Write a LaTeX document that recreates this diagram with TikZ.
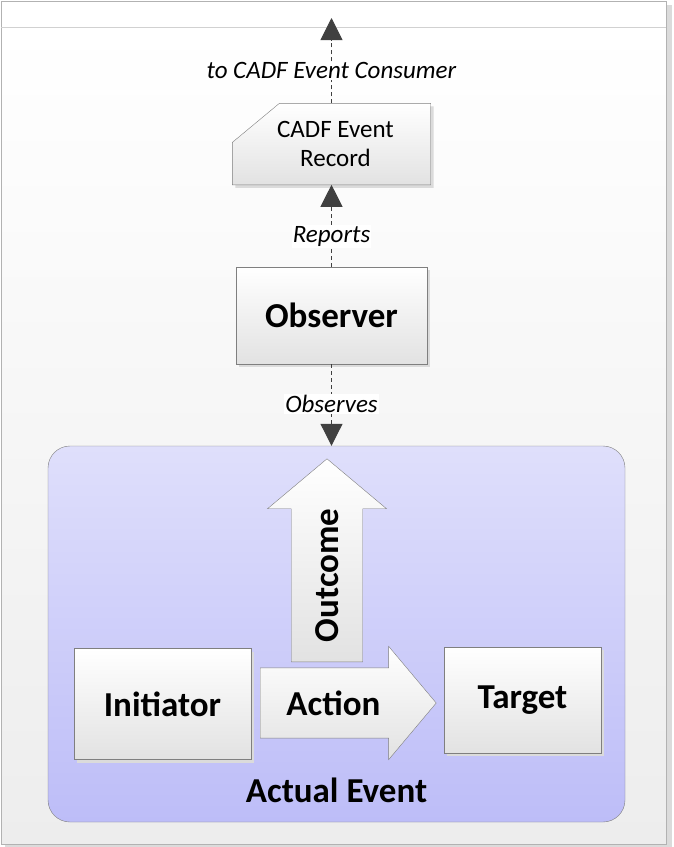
\documentclass[tikz,border=0pt]{standalone}
\usepackage{fontspec}
\setmainfont{Carlito}
\usepackage{tikz}
\usetikzlibrary{shapes.arrows, arrows.meta, positioning, shadows}

\definecolor{boxline}{HTML}{7F7F7F}
\definecolor{boxlow}{HTML}{E2E2E2}
\definecolor{evttop}{HTML}{DFDFFB}
\definecolor{evtlow}{HTML}{BDBDF8}
\definecolor{connclr}{HTML}{404040}
\definecolor{pagelow}{HTML}{EDEDED}

\newcommand{\boxfont}{\fontsize{35}{42}\selectfont\bfseries}
\newcommand{\lblfont}{\fontsize{25}{29}\selectfont}

\begin{document}
\begin{tikzpicture}[
  x=1pt, y=-1pt,
  box/.style     = {draw=boxline, top color=white, bottom color=boxlow,
                    font=\boxfont, align=center,
                    drop shadow={shadow xshift=3pt, shadow yshift=-3pt,
                                 opacity=1, fill=black!14}},
  evtbox/.style  = {draw=boxline, rounded corners=22pt,
                    top color=evttop, bottom color=evtlow},
  blockarr/.style = {single arrow, draw=boxline, top color=white,
                    bottom color=boxlow, font=\boxfont,
                    single arrow tip angle=100},
  conn/.style    = {draw=connclr, line width=1pt, dash pattern=on 4pt off 3pt,
                    -{Triangle[length=22pt, width=22pt]}},
  lbl/.style     = {fill=white, inner sep=1pt, font=\lblfont\itshape}
]
\useasboundingbox (0,0) rectangle (673,847);

% Page frame
\fill[black!14] (5,5) rectangle (672,847);
\fill[top color=white, bottom color=pagelow] (1,27) rectangle (666,844);
\fill[white] (1,1) rectangle (666,27);
\draw[black!30] (1,1) rectangle (666,844);
\draw[black!18] (1,27) -- (666,27);

% Nodes
\node[box, minimum width=191pt, minimum height=97pt] (obs) at (331.5,315.5) {Observer};
\node[minimum width=198pt, minimum height=81pt, above=82pt of obs,
      font=\lblfont, align=center] (rec) {};
\fill[black!14] ([shift={(3pt,-3pt)}]rec.south west) -- ([shift={(3pt,-3pt)}]rec.south east)
  -- ([shift={(3pt,-3pt)}]rec.north east) -- ([shift={(50pt,-3pt)}]rec.north west)
  -- ([shift={(3pt,-42pt)}]rec.north west) -- cycle;
\draw[boxline, top color=white, bottom color=boxlow] (rec.south west) -- (rec.south east)
  -- (rec.north east) -- ([xshift=47pt]rec.north west)
  -- ([yshift=-39pt]rec.north west) -- cycle;
\node[font=\lblfont, align=center] (rectxt) at ([xshift=4pt]rec.center) {CADF Event\\Record};

\node[evtbox, minimum width=577pt, minimum height=376pt] (evt) at (336.5,634) {};
\node[box, minimum width=177pt, minimum height=111pt] (ini) at (162.5,704) {Initiator};
\node[box, minimum width=157pt, minimum height=106pt] (tgt) at (522.5,700) {Target};
\node[blockarr, rotate=90, minimum height=203pt, minimum width=119pt, inner ysep=23.5pt,
      single arrow head extend=23.5pt, anchor=tail] (outc) at (327,662) {Outcome};
\node[blockarr, minimum height=176pt, minimum width=113pt, inner ysep=22.5pt,
      single arrow head extend=21.5pt, anchor=tail] (act) at (260,703) {Action};
\node[font=\boxfont] (evtlbl) at (336.5,790) {Actual Event};

% Arrows
\coordinate (cons) at (331.5,18);
\draw[conn] (rec.north) -- node[lbl, pos=.38] (tocons) {to CADF Event Consumer} (cons);
\draw[conn] (obs.north) -- node[lbl, pos=.37] (rep) {Reports} (rec.south);
\draw[conn] (obs.south) -- node[lbl, pos=.49] (obsv) {Observes} (obs.south |- evt.north);
\end{tikzpicture}
\end{document}
